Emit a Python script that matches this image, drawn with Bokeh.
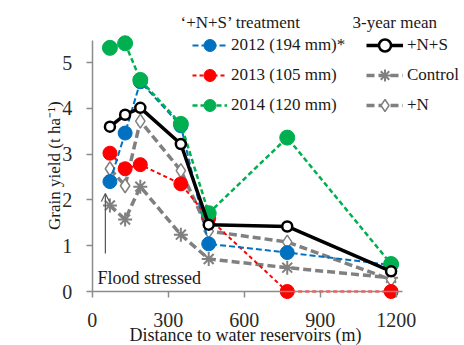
import math
from bokeh.plotting import figure
from bokeh.models import Range1d, FixedTicker, Label, Legend, LegendItem, Arrow, OpenHead
from bokeh.embed import file_html
from bokeh.resources import INLINE

# ---- data ----
distance = [70, 130, 190, 350, 460, 770, 1180]
y2012 = [2.40, 3.46, 4.58, 3.62, 1.04, 0.85, 0.58]
y2013 = [3.02, 2.68, 2.77, 2.35, 1.60, 0.00, 0.00]
y2014 = [5.32, 5.42, 4.62, 3.66, 1.71, 3.36, 0.60]
mean_ns = [3.60, 3.86, 4.01, 3.22, 1.46, 1.42, 0.44]
mean_control = [1.88, 1.57, 2.29, 1.24, 0.71, 0.52, 0.30]
mean_n = [2.68, 2.31, 3.72, 2.64, 1.32, 1.08, 0.26]

x_ticks = [0, 300, 600, 900, 1200]
y_ticks = [0, 1, 2, 3, 4, 5]

treat_labels = ["2012 (194 mm)*", "2013 (105 mm)", "2014 (120 mm)"]
mean_labels = ["+N+S", "Control", "+N"]
treat_title = "\u2018+N+S\u2019 treatment"
mean_title = "3-year mean"

arrow_x = 52
arrow_y0 = 0.83
arrow_y1 = 2.14

FONT = "Liberation Serif"
BLUE = "#0070C0"
RED = "#FF0000"
GREEN = "#00B050"
GRAY = "#808080"

W, H = 464, 345
# frame covers the whole canvas; axes sit at fixed locations inside it
p = figure(width=W, height=H, output_backend="svg", toolbar_location=None,
           x_range=Range1d(-362.0, 1469.8), y_range=Range1d(-1.179, 6.354),
           min_border_left=0, min_border_right=0, min_border_top=0,
           min_border_bottom=0)
p.outline_line_color = None
p.xgrid.grid_line_color = None
p.ygrid.grid_line_color = None
p.background_fill_color = "white"

for ax in (p.xaxis, p.yaxis):
    ax.fixed_location = 0
    ax.axis_line_color = "#8c8c8c"
    ax.axis_line_width = 1.5
    ax.major_tick_line_color = "#8c8c8c"
    ax.major_tick_line_width = 1.5
    ax.major_tick_out = 6
    ax.major_tick_in = 0
    ax.minor_tick_line_color = None
    ax.major_label_text_font = FONT
    ax.major_label_text_font_size = "20px"
    ax.major_label_text_color = "#2b2b2b"

p.xaxis.ticker = FixedTicker(ticks=x_ticks)
p.yaxis.ticker = FixedTicker(ticks=y_ticks)
p.xaxis.bounds = (0, 1225)
p.yaxis.bounds = (0, 5.48)
p.xaxis.major_label_standoff = 15
p.yaxis.major_label_standoff = 14

# ---- series ----
lc = p.line(distance, mean_control, line_color=GRAY, line_width=3.5, line_dash="8 4")
sc = p.scatter(distance, mean_control, marker="asterisk", size=14, line_color=GRAY, line_width=2)

ln = p.line(distance, mean_n, line_color=GRAY, line_width=3.5, line_dash="8 4")
sn = p.scatter(distance, mean_n, marker="diamond", size=14, fill_color="white",
               line_color=GRAY, line_width=1.5)

l13 = p.line(distance, y2013, line_color=RED, line_width=2, line_dash="4 3")
s13 = p.scatter(distance, y2013, marker="circle", size=14, fill_color=RED, line_color=RED)

l12 = p.line(distance, y2012, line_color=BLUE, line_width=2, line_dash="6 3")
s12 = p.scatter(distance, y2012, marker="circle", size=14, fill_color=BLUE, line_color=BLUE)

l14 = p.line(distance, y2014, line_color=GREEN, line_width=2.5, line_dash="5 3")
s14 = p.scatter(distance, y2014, marker="circle", size=15, fill_color=GREEN, line_color=GREEN)

lm = p.line(distance, mean_ns, line_color="black", line_width=3.5)
sm = p.scatter(distance, mean_ns, marker="circle", size=10, fill_color="white",
               line_color="black", line_width=2.5)

# ---- legends ----
leg_common = dict(orientation="vertical", padding=0, margin=0, spacing=0,
                  glyph_height=30, label_height=30, label_standoff=4,
                  label_text_font=FONT, label_text_font_size="17px",
                  label_text_color="#1a1a1a", border_line_color=None,
                  background_fill_alpha=0)

leg1 = Legend(items=[LegendItem(label=treat_labels[0], renderers=[l12, s12]),
                     LegendItem(label=treat_labels[1], renderers=[l13, s13]),
                     LegendItem(label=treat_labels[2], renderers=[l14, s14])],
              location=(192, 225), glyph_width=35, **leg_common)
leg2 = Legend(items=[LegendItem(label=mean_labels[0], renderers=[lm, sm]),
                     LegendItem(label=mean_labels[1], renderers=[lc, sc]),
                     LegendItem(label=mean_labels[2], renderers=[ln, sn])],
              location=(366, 225), glyph_width=37, **leg_common)
p.add_layout(leg1)
p.add_layout(leg2)

txt = dict(x_units="screen", y_units="screen", text_font=FONT, text_color="#1a1a1a")
p.add_layout(Label(x=180, y=323, text=treat_title, text_align="left",
                   text_baseline="middle", text_font_size="17px", **txt))
p.add_layout(Label(x=352, y=323, text=mean_title, text_align="left",
                   text_baseline="middle", text_font_size="17px", **txt))

# axis titles
p.add_layout(Label(x=245, y=0.5, text="Distance to water reservoirs (m)", text_align="center",
                   text_baseline="bottom", text_font_size="18px", **txt))
p.add_layout(Label(x=54, y=182, angle=math.pi / 2, text="Grain yield  (t ha\u207b\u00b9)",
                   text_align="center", text_baseline="middle", text_font_size="17px", **txt))

# flood annotation
p.add_layout(Label(x=97, y=68, text="Flood stressed", text_align="left",
                   text_baseline="middle", text_font_size="18px", **txt))
p.add_layout(Arrow(end=OpenHead(size=8, line_color="#555555", line_width=1.2),
                   x_start=arrow_x, y_start=arrow_y0, x_end=arrow_x, y_end=arrow_y1,
                   line_color="#555555", line_width=1.2))

open("out.html", "w").write(file_html(p, INLINE))
